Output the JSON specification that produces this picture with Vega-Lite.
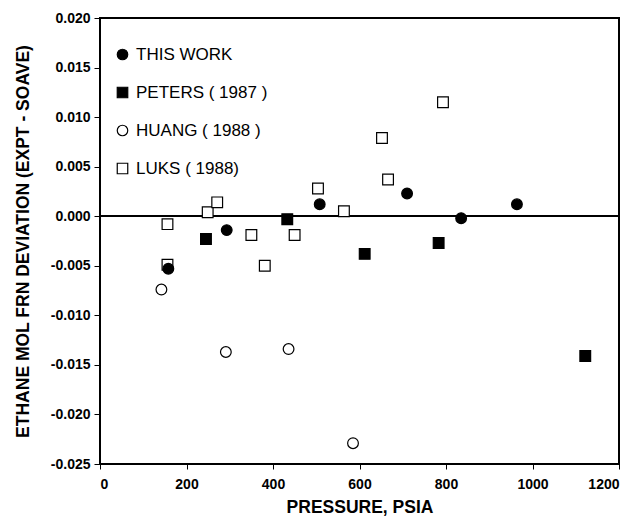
{
  "$schema": "https://vega.github.io/schema/vega-lite/v6.json",
  "autosize": {"type": "none"},
  "padding": {"left": 100, "top": 18, "right": 20, "bottom": 55},
  "width": 519,
  "height": 446,
  "background": "white",
  "config": {
    "view": {"stroke": "black", "strokeWidth": 2},
    "font": "Liberation Sans",
    "legend": {
      "title": null, "orient": "none", "legendX": 14, "legendY": 28,
      "labelFont": "Liberation Sans", "labelFontSize": 17, "labelFontWeight": "normal", "labelColor": "black",
      "symbolSize": 110, "symbolStrokeWidth": 1.2,
      "rowPadding": 20, "labelOffset": 5, "padding": 0
    },
    "axis": {
      "grid": false,
      "domain": false,
      "tickColor": "black",
      "tickWidth": 1,
      "tickSize": 6,
      "labelColor": "black",
      "labelFont": "Liberation Sans",
      "labelFontWeight": "bold",
      "labelFontSize": 14,
      "titleColor": "black",
      "titleFont": "Liberation Sans",
      "titleFontWeight": "bold",
      "titleFontSize": 17.5
    }
  },
  "data": {
    "values": [
      {"series": "THIS WORK", "pressure": 158, "dev": -0.0053},
      {"series": "THIS WORK", "pressure": 293, "dev": -0.0014},
      {"series": "THIS WORK", "pressure": 508, "dev": 0.0012},
      {"series": "THIS WORK", "pressure": 710, "dev": 0.0023},
      {"series": "THIS WORK", "pressure": 835, "dev": -0.0002},
      {"series": "THIS WORK", "pressure": 964, "dev": 0.0012},
      {"series": "PETERS ( 1987 )", "pressure": 245, "dev": -0.0023},
      {"series": "PETERS ( 1987 )", "pressure": 433, "dev": -0.0003},
      {"series": "PETERS ( 1987 )", "pressure": 612, "dev": -0.0038},
      {"series": "PETERS ( 1987 )", "pressure": 783, "dev": -0.0027},
      {"series": "PETERS ( 1987 )", "pressure": 1122, "dev": -0.0141},
      {"series": "HUANG ( 1988 )", "pressure": 142, "dev": -0.0074},
      {"series": "HUANG ( 1988 )", "pressure": 291, "dev": -0.0137},
      {"series": "HUANG ( 1988 )", "pressure": 436, "dev": -0.0134},
      {"series": "HUANG ( 1988 )", "pressure": 585, "dev": -0.0229},
      {"series": "LUKS ( 1988)", "pressure": 156, "dev": -0.0008},
      {"series": "LUKS ( 1988)", "pressure": 156, "dev": -0.0049},
      {"series": "LUKS ( 1988)", "pressure": 249, "dev": 0.0004},
      {"series": "LUKS ( 1988)", "pressure": 271, "dev": 0.0014},
      {"series": "LUKS ( 1988)", "pressure": 350, "dev": -0.0019},
      {"series": "LUKS ( 1988)", "pressure": 381, "dev": -0.0050},
      {"series": "LUKS ( 1988)", "pressure": 450, "dev": -0.0019},
      {"series": "LUKS ( 1988)", "pressure": 504, "dev": 0.0028},
      {"series": "LUKS ( 1988)", "pressure": 564, "dev": 0.0005},
      {"series": "LUKS ( 1988)", "pressure": 652, "dev": 0.0079},
      {"series": "LUKS ( 1988)", "pressure": 666, "dev": 0.0037},
      {"series": "LUKS ( 1988)", "pressure": 793, "dev": 0.0115}
    ]
  },
  "layer": [
    {
      "mark": {"type": "rule", "color": "black", "strokeWidth": 1},
      "encoding": {"y": {"datum": 0, "type": "quantitative", "scale": {"domain": [-0.025, 0.02]}}}
    },
    {
      "mark": {"type": "point", "filled": true, "strokeWidth": 1.2, "size": 115, "opacity": 1},
      "encoding": {
        "x": {
          "field": "pressure", "type": "quantitative",
          "scale": {"domain": [0, 1200], "nice": false},
          "axis": {"values": [0, 200, 400, 600, 800, 1000, 1200], "format": "d", "title": "PRESSURE, PSIA", "tickSize": 5, "labelPadding": 8, "titlePadding": 7}
        },
        "y": {
          "field": "dev", "type": "quantitative",
          "scale": {"domain": [-0.025, 0.02], "nice": false, "zero": false},
          "axis": {
            "values": [-0.025, -0.02, -0.015, -0.01, -0.005, 0, 0.005, 0.01, 0.015, 0.02],
            "labelExpr": "datum.value < 0 ? '-' + format(abs(datum.value), '.3f') : format(datum.value, '.3f')",
            "title": "ETHANE MOL FRN DEVIATION (EXPT - SOAVE)",
            "labelPadding": 4,
            "titlePadding": 18
          }
        },
        "order": {"field": "series", "sort": "ascending"},
        "stroke": {
          "field": "series", "type": "nominal",
          "scale": {"domain": ["THIS WORK", "PETERS ( 1987 )", "HUANG ( 1988 )", "LUKS ( 1988)"], "range": ["black", "black", "black", "black"]},
          "legend": {"title": null}
        },
        "shape": {
          "field": "series", "type": "nominal",
          "scale": {"domain": ["THIS WORK", "PETERS ( 1987 )", "HUANG ( 1988 )", "LUKS ( 1988)"], "range": ["circle", "square", "circle", "square"]},
          "legend": {"title": null}
        },
        "fill": {
          "field": "series", "type": "nominal",
          "scale": {"domain": ["THIS WORK", "PETERS ( 1987 )", "HUANG ( 1988 )", "LUKS ( 1988)"], "range": ["black", "black", "white", "white"]},
          "legend": {"title": null}
        }
      }
    }
  ]
}
